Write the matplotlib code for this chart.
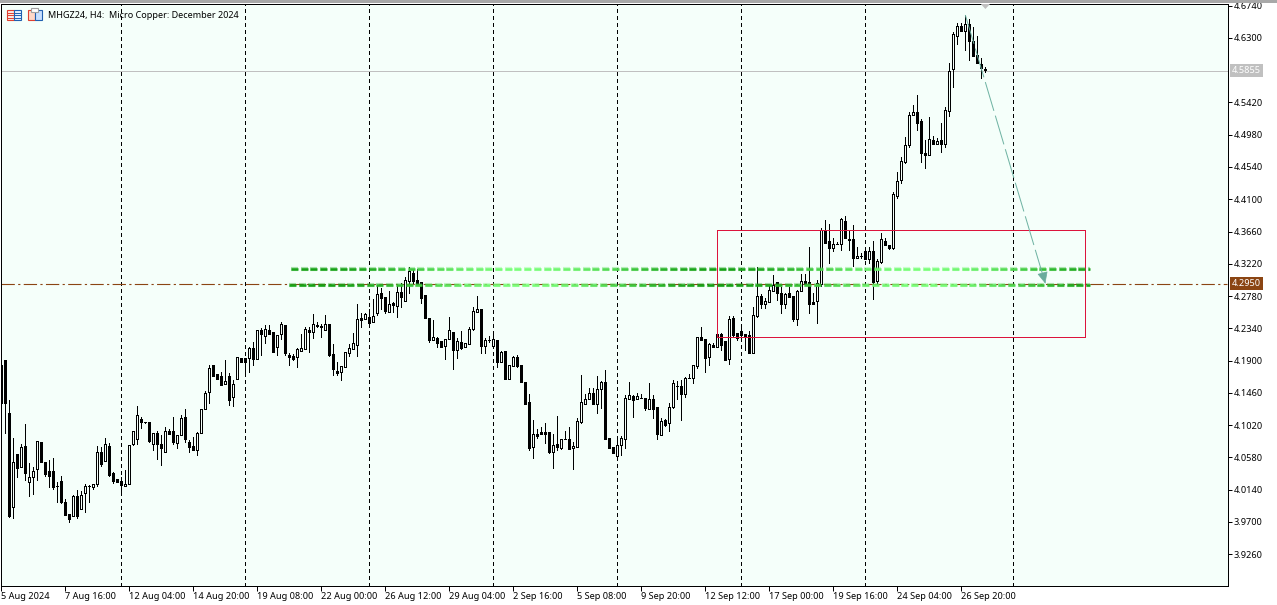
import matplotlib
matplotlib.use("Agg")
import matplotlib.pyplot as plt
from matplotlib.collections import LineCollection
from matplotlib.patches import Rectangle
import numpy as np

# candles, one entry per bar
opens = [4.1840,4.1908,4.1180,3.9897,4.0620,4.0443,4.0734,4.0247,4.0316,4.0416,
4.0784,4.0511,4.0393,4.0393,4.0188,4.0252,3.9970,3.9801,3.9783,4.0052,
3.9870,4.0097,4.0188,4.0179,4.0211,4.0648,4.0534,4.0730,4.0366,4.0279,
4.0261,4.0193,4.0220,4.0761,4.0834,4.1098,4.1068,4.1057,4.0761,4.0907,
4.0757,4.0657,4.0939,4.0939,4.0780,4.0884,4.1125,4.0784,4.0730,4.0684,
4.0916,4.1244,4.1467,4.1840,4.1717,4.1690,4.1580,4.1690,4.1408,4.1653,
4.1940,4.1931,4.1940,4.2072,4.1925,4.2316,4.2239,4.2316,4.2289,4.2089,
4.2266,4.2384,4.1975,4.1957,4.1952,4.2034,4.2061,4.2316,4.2293,4.2380,
4.2371,4.2316,4.2398,4.1988,4.1756,4.1747,4.1816,4.2007,4.2057,4.2116,
4.2475,4.2471,4.2493,4.2430,4.2553,4.2826,4.2766,4.2566,4.2685,4.2648,
4.2835,4.2716,4.2989,4.3099,4.2999,4.2967,4.2794,4.2480,4.2180,4.2207,
4.2170,4.2102,4.2189,4.2289,4.2038,4.2148,4.2088,4.2125,4.2330,4.2566,
4.2598,4.2102,4.2185,4.2098,4.2180,4.1884,4.2029,4.1652,4.1829,4.1948,
4.1839,4.1607,4.1334,4.0724,4.0892,4.0920,4.0920,4.0920,4.0651,4.0756,
4.0710,4.0825,4.0824,4.0701,4.0724,4.1065,4.1311,4.1370,4.1457,4.1311,
4.1507,4.1607,4.0838,4.0719,4.0601,4.0751,4.0824,4.1379,4.1420,4.1370,
4.1385,4.1384,4.1238,4.1370,4.1261,4.0879,4.1083,4.1042,4.1270,4.1553,
4.1548,4.1447,4.1658,4.1657,4.1825,4.2216,4.2189,4.1943,4.2116,4.2089,
4.2262,4.2162,4.1921,4.2480,4.2271,4.2307,4.2257,4.2244,4.2007,4.2511,
4.2775,4.2675,4.2702,4.2852,4.2966,4.2825,4.2675,4.2816,4.2775,4.2461,
4.2843,4.2984,4.2966,4.2693,4.2707,4.2943,4.3685,4.3526,4.3439,4.3486,
4.3485,4.3799,4.3553,4.3553,4.3294,4.3331,4.3389,4.3280,4.3389,4.2984,
4.3248,4.3526,4.3471,4.3439,4.4149,4.4363,4.4611,4.4839,4.5253,4.5285,
4.5162,4.4725,4.4707,4.4902,4.4857,4.4902,4.4857,4.5307,4.5872,4.6327,
4.6463,4.6399,4.6490,4.6263,4.6067,4.5940,4.5876]

highs = [4.1900,4.1908,4.1362,4.0839,4.0620,4.0761,4.1034,4.0497,4.0452,4.0798,
4.0784,4.0511,4.0543,4.0566,4.0247,4.0325,4.0006,3.9801,4.0065,4.0134,
4.0124,4.0211,4.0202,4.0211,4.0734,4.0725,4.0839,4.0770,4.0375,4.0279,
4.0316,4.0407,4.0743,4.0934,4.1280,4.1125,4.1068,4.1057,4.0907,4.0943,
4.0884,4.0989,4.0971,4.1125,4.0880,4.1157,4.1235,4.0816,4.0852,4.0921,
4.1235,4.1485,4.1840,4.1840,4.1717,4.1749,4.1908,4.1726,4.1635,4.1944,
4.1940,4.1931,4.2090,4.2158,4.2316,4.2350,4.2384,4.2384,4.2289,4.2243,
4.2425,4.2384,4.1998,4.1984,4.2075,4.2261,4.2362,4.2352,4.2534,4.2425,
4.2398,4.2521,4.2398,4.2125,4.1884,4.1820,4.2016,4.2125,4.2270,4.2671,
4.2544,4.2553,4.2598,4.2735,4.2917,4.2894,4.2766,4.2848,4.2703,4.2930,
4.2962,4.3044,4.3171,4.3135,4.3144,4.2976,4.2794,4.2480,4.2452,4.2216,
4.2170,4.2193,4.2498,4.2289,4.2202,4.2307,4.2143,4.2352,4.2635,4.2780,
4.2598,4.2202,4.2234,4.2270,4.2180,4.2034,4.2029,4.1834,4.1961,4.1970,
4.1839,4.1607,4.1443,4.1088,4.0961,4.0997,4.1052,4.0920,4.0892,4.1143,
4.0824,4.0942,4.0997,4.0792,4.1111,4.1702,4.1443,4.1520,4.1520,4.1689,
4.1620,4.1770,4.0838,4.0719,4.0815,4.0870,4.1429,4.1602,4.1429,4.1452,
4.1443,4.1384,4.1589,4.1429,4.1261,4.1111,4.1097,4.1315,4.1634,4.1620,
4.1634,4.1670,4.1716,4.1843,4.2216,4.2362,4.2189,4.2144,4.2144,4.2280,
4.2271,4.2162,4.2508,4.2508,4.2271,4.2339,4.2257,4.2298,4.2626,4.3171,
4.2802,4.2748,4.2930,4.3066,4.2975,4.2898,4.2825,4.2898,4.2775,4.2861,
4.3080,4.3080,4.3453,4.2816,4.2998,4.3703,4.3817,4.3762,4.3567,4.3521,
4.3840,4.3872,4.3681,4.3744,4.3453,4.3362,4.3408,4.3453,4.3535,4.3280,
4.3635,4.3567,4.3471,4.4195,4.4476,4.4672,4.4943,4.5294,4.5380,4.5521,
4.5194,4.4907,4.5216,4.4966,4.4930,4.5135,4.5353,4.5954,4.6377,4.6500,
4.6500,4.6613,4.6554,4.6454,4.6327,4.6022,4.5908]

lows = [4.1300,4.0916,3.9770,3.9756,4.0315,4.0443,4.0270,4.0056,4.0074,4.0270,
4.0520,4.0325,4.0179,4.0147,3.9974,3.9951,3.9792,3.9701,3.9783,3.9756,
3.9870,3.9838,3.9974,4.0147,4.0188,4.0461,4.0534,4.0329,4.0225,4.0247,
4.0111,4.0193,4.0220,4.0748,4.0761,4.0984,4.1044,4.0793,4.0679,4.0557,
4.0475,4.0657,4.0902,4.0761,4.0711,4.0884,4.0793,4.0657,4.0679,4.0611,
4.0916,4.1244,4.1316,4.1694,4.1653,4.1567,4.1580,4.1298,4.1280,4.1653,
4.1885,4.1749,4.1749,4.1840,4.1925,4.1975,4.2134,4.2261,4.2020,4.1975,
4.2189,4.1975,4.1838,4.1906,4.1816,4.2034,4.2061,4.2020,4.2211,4.2352,
4.2225,4.2316,4.1961,4.1702,4.1702,4.1634,4.1816,4.1961,4.2057,4.1961,
4.2362,4.2471,4.2407,4.2430,4.2521,4.2598,4.2553,4.2566,4.2566,4.2498,
4.2635,4.2716,4.2816,4.2953,4.2944,4.2689,4.2480,4.2157,4.2180,4.2079,
4.2079,4.1925,4.2189,4.1784,4.1929,4.2052,4.2088,4.2125,4.2316,4.2566,
4.2007,4.2007,4.2157,4.2098,4.1816,4.1884,4.1643,4.1652,4.1829,4.1816,
4.1602,4.1311,4.0679,4.0574,4.0838,4.0901,4.0770,4.0642,4.0437,4.0678,
4.0688,4.0824,4.0697,4.0419,4.0724,4.1052,4.1311,4.1370,4.1311,4.1188,
4.1256,4.0833,4.0710,4.0638,4.0601,4.0610,4.0710,4.1379,4.1133,4.1370,
4.1384,4.1224,4.1238,4.1120,4.0824,4.0879,4.1011,4.0942,4.1247,4.1375,
4.1088,4.1406,4.1657,4.1589,4.1802,4.2185,4.1748,4.1839,4.2089,4.2089,
4.2043,4.1912,4.1857,4.2216,4.2180,4.2235,4.2043,4.2007,4.2007,4.2498,
4.2620,4.2620,4.2702,4.2852,4.2725,4.2543,4.2611,4.2770,4.2443,4.2388,
4.2843,4.2943,4.2543,4.2675,4.2416,4.2921,4.3499,4.3235,4.3398,4.3485,
4.3408,4.3576,4.3408,4.3194,4.3294,4.3294,4.3280,4.3226,4.2743,4.2943,
4.3226,4.3480,4.3417,4.3417,4.4121,4.4318,4.4598,4.4816,4.5253,4.5043,
4.4611,4.4529,4.4707,4.4857,4.4857,4.4743,4.4816,4.5239,4.5635,4.6217,
4.6399,4.6136,4.6000,4.6058,4.5963,4.5758,4.5835]

closes = [4.1326,4.1326,3.9779,4.0520,4.0438,4.0716,4.0361,4.0306,4.0393,4.0798,
4.0520,4.0352,4.0329,4.0179,4.0184,3.9970,3.9797,3.9738,4.0052,3.9779,
4.0061,4.0184,4.0184,4.0211,4.0648,4.0488,4.0757,4.0338,4.0256,4.0247,
4.0206,4.0220,4.0743,4.0934,4.1153,4.1066,4.1066,4.0807,4.0907,4.0761,
4.0711,4.0934,4.0902,4.0793,4.0880,4.1112,4.0834,4.0725,4.0679,4.0907,
4.1235,4.1453,4.1794,4.1694,4.1653,4.1567,4.1617,4.1362,4.1580,4.1944,
4.1885,4.1885,4.2067,4.1922,4.2316,4.2261,4.2330,4.2261,4.2020,4.2243,
4.2398,4.2007,4.1952,4.1925,4.2057,4.2066,4.2330,4.2289,4.2398,4.2378,
4.2352,4.2398,4.1970,4.1788,4.1734,4.1820,4.2016,4.2070,4.2134,4.2466,
4.2457,4.2530,4.2416,4.2507,4.2803,4.2757,4.2575,4.2671,4.2662,4.2835,
4.2771,4.3000,4.3121,4.2989,4.2944,4.2757,4.2480,4.2180,4.2216,4.2134,
4.2089,4.2193,4.2316,4.2043,4.2166,4.2066,4.2134,4.2325,4.2575,4.2598,
4.2102,4.2180,4.2183,4.2189,4.1884,4.2016,4.1647,4.1834,4.1948,4.1825,
4.1611,4.1311,4.0710,4.0892,4.0865,4.0901,4.0901,4.0651,4.0747,4.0720,
4.0824,4.0824,4.0697,4.0729,4.1070,4.1329,4.1370,4.1452,4.1311,4.1507,
4.1607,4.0833,4.0710,4.0638,4.0742,4.0842,4.1384,4.1425,4.1361,4.1411,
4.1384,4.1256,4.1370,4.1238,4.0897,4.1074,4.1020,4.1270,4.1589,4.1552,
4.1447,4.1657,4.1657,4.1843,4.2216,4.2185,4.1939,4.2121,4.2089,4.2262,
4.2112,4.1912,4.2462,4.2253,4.2203,4.2244,4.2226,4.2007,4.2517,4.2775,
4.2670,4.2707,4.2857,4.2930,4.2825,4.2675,4.2802,4.2770,4.2470,4.2843,
4.2980,4.2943,4.2675,4.2675,4.2953,4.3685,4.3499,4.3439,4.3485,4.3485,
4.3826,4.3576,4.3539,4.3303,4.3321,4.3330,4.3280,4.3389,4.2971,4.3253,
4.3553,4.3480,4.3439,4.4172,4.4353,4.4618,4.4834,4.5244,4.5285,4.5144,
4.4725,4.4707,4.4916,4.4857,4.4893,4.4857,4.5312,4.5844,4.6349,4.6468,
4.6399,4.6486,4.6263,4.6058,4.5963,4.5885,4.5858]

y_ticks = [4.6740,4.6300,4.5420,4.4980,4.4540,4.4100,4.3660,4.3220,4.2780,4.2340,
           4.1900,4.1460,4.1020,4.0580,4.0140,3.9700,3.9260]
x_labels = ["5 Aug 2024","7 Aug 16:00","12 Aug 04:00","14 Aug 20:00","19 Aug 08:00",
            "22 Aug 00:00","26 Aug 12:00","29 Aug 04:00","2 Sep 16:00","5 Sep 08:00",
            "9 Sep 20:00","12 Sep 12:00","17 Sep 00:00","19 Sep 16:00","24 Sep 04:00",
            "26 Sep 20:00"]
x_ticks = [0,16,32,48,64,80,96,112,128,144,160,176,192,208,224,240]
week_bars = [30,61,92,123,154,185,216,253]

last_price = 4.5855
level_price = 4.2950
zone_top = 4.3675
zone_bottom = 4.2217
zone_start = 179
zone_end = 271
green_levels = [4.3149, 4.2924]
green_starts = [72.4, 71.9]
green_end = 272.2
arrow_from = (241, 4.6613)
arrow_to = (261, 4.2950)

plt.rcParams["font.family"] = ["Noto Sans", "DejaVu Sans"]
BG = "#F5FFFA"
W, H = 1277, 605

fig = plt.figure(figsize=(W / 100, H / 100), dpi=100, facecolor="white")
ax = fig.add_axes([1.0 / W, (H - 586) / H, (1227.5 - 1.0) / W, (586 - 3.5) / H], facecolor=BG)

ax.set_xlim(-0.08, 306.54)
ax.set_ylim(3.8825, 4.6770)

for b in week_bars:
    ax.axvline(b, color="black", lw=0.72, ls=(0, (3, 3)), antialiased=False, zorder=1)

ax.axhline(last_price, color="#C0C0C0", lw=0.72, antialiased=False, zorder=2)
ax.plot([-0.08, 306.54], [level_price, level_price], color="#8B4513", lw=0.8,
        ls=(0, (12, 3, 2, 3)), zorder=2)

# candles
idx = np.arange(len(opens))
o = np.array(opens)
c = np.array(closes)
ax.vlines(idx, lows, highs, color="black", lw=0.72, antialiased=False, zorder=4)
up = c >= o
ax.bar(idx[up], np.abs(c - o)[up], bottom=o[up], width=0.5, facecolor=BG,
       edgecolor="black", lw=0.72, antialiased=False, zorder=5)
ax.bar(idx[~up], np.abs(c - o)[~up], bottom=c[~up], width=0.5, facecolor="black",
       edgecolor="black", lw=0.72, antialiased=False, zorder=5)

ax.add_patch(Rectangle((zone_start, zone_bottom), zone_end - zone_start, zone_top - zone_bottom,
                       fill=False, edgecolor="#DC143C", lw=0.72, antialiased=False, zorder=6))

# green levels, the dashes drift between dark and light along the line
dark = np.array([0.08, 0.63, 0.08])
light = np.array([0.47, 1.0, 0.47])
for level, start in zip(green_levels, green_starts):
    xs = np.arange(start, green_end, 2.43)
    segs = [[(s, level), (min(s + 1.75, green_end), level)] for s in xs]
    t = 0.5 - 0.5 * np.cos(2 * np.pi * (xs - 179) / 100)
    cols = [dark + (light - dark) * v for v in t]
    ax.add_collection(LineCollection(segs, colors=cols, linewidths=3.0, alpha=0.35, capstyle="butt", zorder=7))
    ax.add_collection(LineCollection(segs, colors=cols, linewidths=1.8, capstyle="butt", zorder=7))

# forecast arrow
ax.plot([arrow_from[0], arrow_to[0]], [arrow_from[1], arrow_to[1]], color="#6FB3A3", lw=0.72,
        ls=(0, (30, 5)), zorder=8)
ax.annotate("", xy=arrow_to, xytext=(arrow_to[0] - 0.6, arrow_to[1] + 0.0125),
            arrowprops=dict(arrowstyle="-|>,head_width=0.33,head_length=0.72", color="#6AAB9C",
                            lw=0.5, shrinkA=0, shrinkB=0), zorder=8)

for s in ax.spines.values():
    s.set_linewidth(0.72)
    s.set_color("black")

ax.yaxis.tick_right()
ax.set_yticks(y_ticks)
ax.set_yticklabels(["%.4f" % v for v in y_ticks], fontsize=6.6, color="black")
ax.tick_params(axis="y", length=3, width=0.72, pad=1.5)
ax.set_xticks(x_ticks)
ax.set_xticklabels(x_labels, fontsize=6.6, ha="left", color="black")
ax.tick_params(axis="x", length=3.5, width=0.72, pad=1)

# price boxes on the scale
ytrans = ax.get_yaxis_transform()
ax.text(1.0036, last_price, "4.5855", transform=ytrans, fontsize=6.6, color="white", va="center",
        ha="left", bbox=dict(facecolor="#C0C0C0", edgecolor="none", pad=1.6), zorder=10)
ax.text(1.0036, level_price, "4.2950", transform=ytrans, fontsize=6.6, color="white", va="center",
        ha="left", bbox=dict(facecolor="#8B4513", edgecolor="none", pad=1.6), zorder=10)

# overlay in pixels for the title, the two toolbar icons and the last bar marker
top = fig.add_axes([0, 0, 1, 1], facecolor="none")
top.set_xlim(0, W)
top.set_ylim(H, 0)
top.axis("off")
top.add_patch(Rectangle((0, 0), W, 2.5, facecolor="#A8A8A8", edgecolor="none"))
top.fill([980.8, 990, 985.4], [4, 4, 9], color="#C0C0C0", lw=0)
top.text(47.5, 15, "MHGZ24, H4:  Micro Copper: December 2024", fontsize=6.5, va="center", ha="left", color="black")

top.add_patch(Rectangle((6.5, 9.5), 7, 10, facecolor="#FFE8E0", edgecolor="#E04030", lw=0.8))
top.add_patch(Rectangle((13.5, 9.5), 7, 10, facecolor="#E8F0FF", edgecolor="#2060B0", lw=0.8))
for yy in [12.5, 15, 17.5]:
    top.plot([7.5, 12.5], [yy, yy], color="#E04030", lw=0.7)
    top.plot([14.5, 19.5], [yy, yy], color="#2060B0", lw=0.7)
top.add_patch(Rectangle((27.5, 9.5), 7, 10, facecolor="#FFD8C8", edgecolor="#E04030", lw=0.8))
top.add_patch(Rectangle((34.5, 9.5), 7, 10, facecolor="#C8E0FF", edgecolor="#2060B0", lw=0.8))
top.add_patch(Rectangle((31, 8), 7, 4, facecolor="white", edgecolor="#A0A0A0", lw=0.8))

fig.savefig("out.png", dpi=100, facecolor="white")
